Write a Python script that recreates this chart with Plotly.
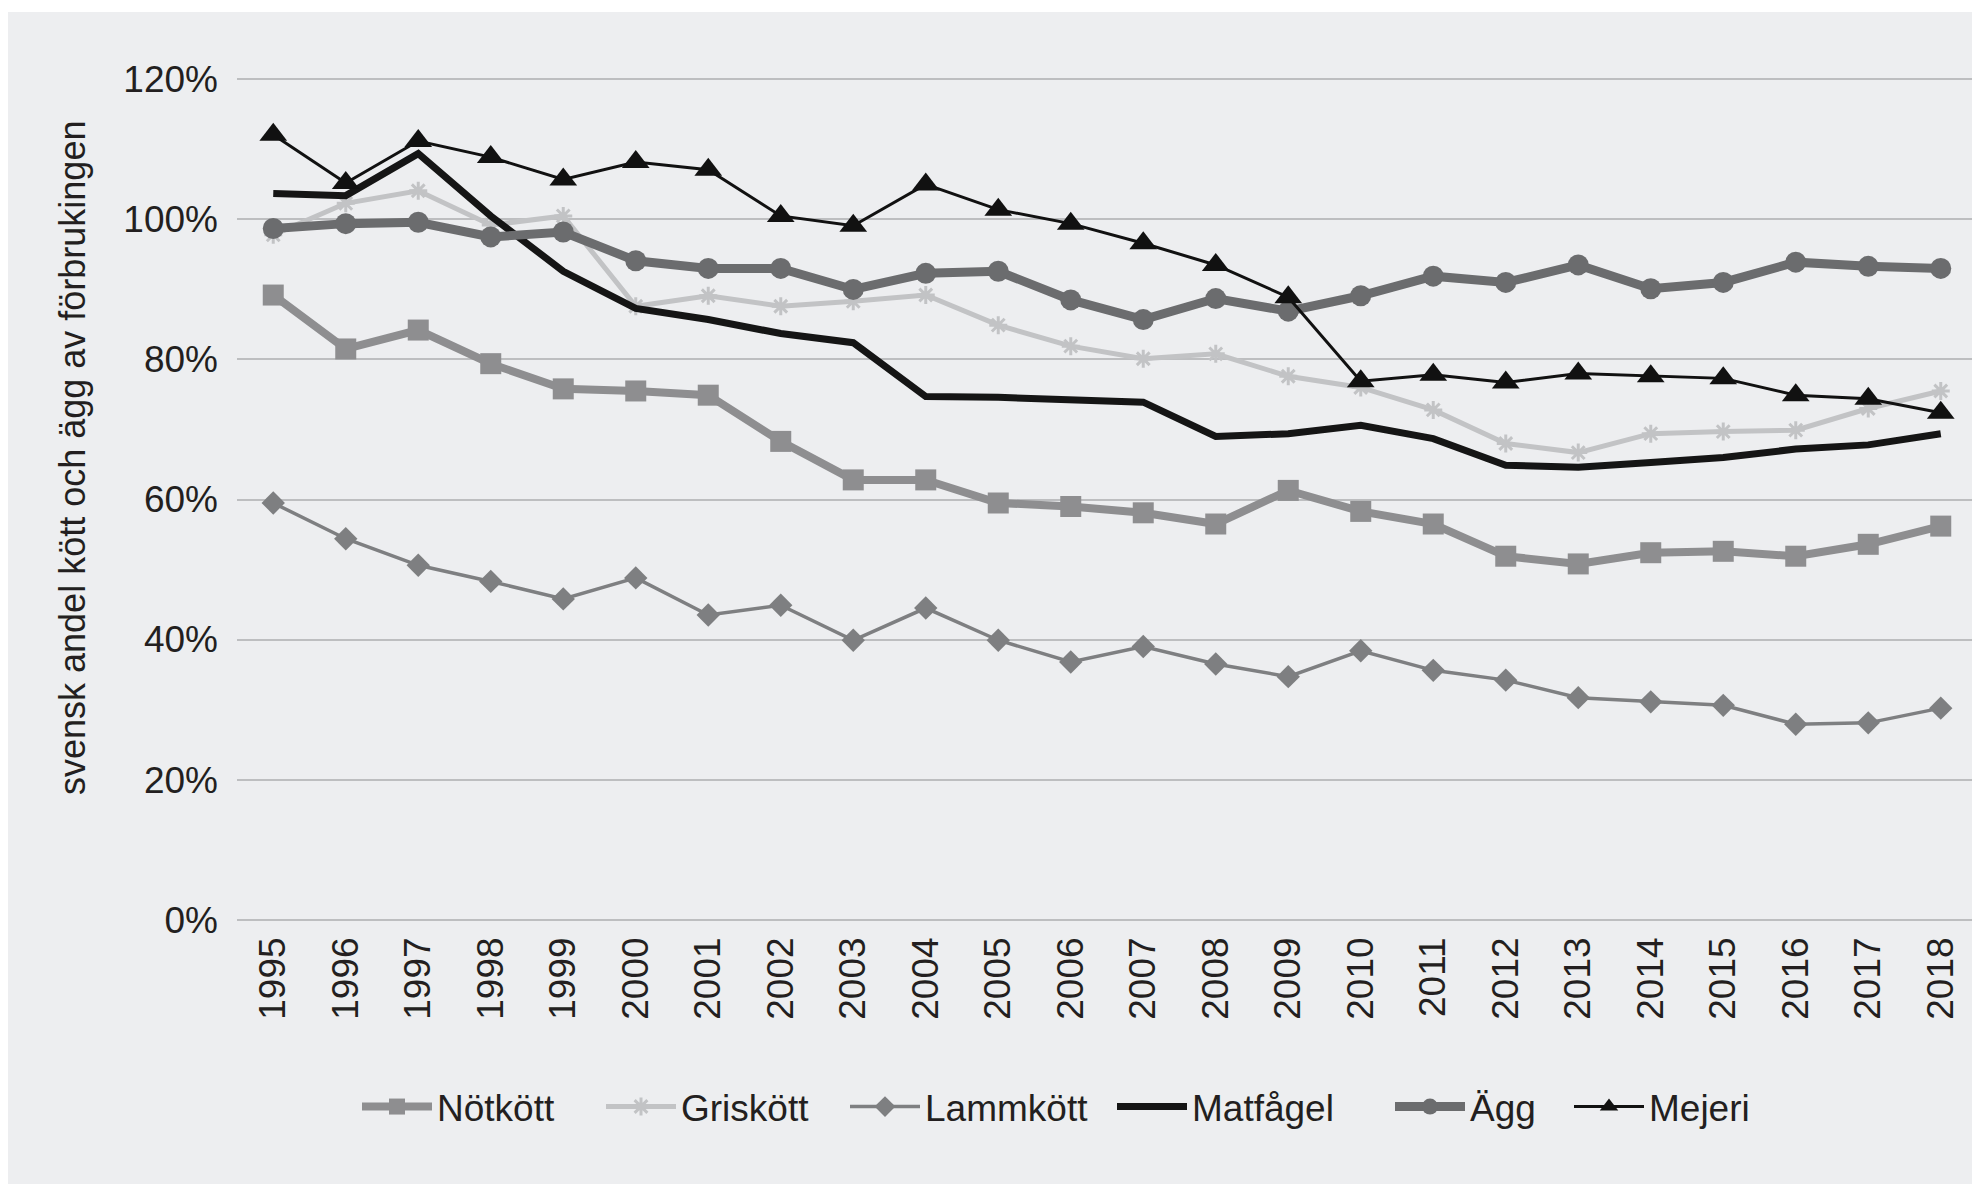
import plotly.graph_objects as go

years = list(range(1995, 2019))

notkott = [89.2, 81.5, 84.2, 79.4, 75.8, 75.5, 74.9, 68.3, 62.8, 62.8, 59.5, 59.0,
           58.1, 56.5, 61.3, 58.3, 56.5, 51.9, 50.8, 52.4, 52.6, 51.9, 53.6, 56.2]
griskott = [97.8, 102.3, 104.1, 99.2, 100.5, 87.6, 89.1, 87.6, 88.3, 89.2, 84.9, 81.9,
            80.1, 80.8, 77.6, 76.0, 72.8, 68.0, 66.7, 69.4, 69.7, 69.9, 73.0, 75.5]
lammkott = [59.5, 54.4, 50.6, 48.3, 45.8, 48.8, 43.5, 44.9, 39.9, 44.5, 39.9, 36.8,
            39.0, 36.5, 34.7, 38.4, 35.6, 34.2, 31.7, 31.1, 30.6, 27.9, 28.1, 30.2]
matfagel = [103.7, 103.4, 109.4, 100.5, 92.6, 87.3, 85.7, 83.7, 82.4, 74.7, 74.6, 74.2,
            73.9, 69.0, 69.4, 70.6, 68.7, 64.9, 64.6, 65.3, 66.0, 67.2, 67.8, 69.4]
agg = [98.7, 99.4, 99.6, 97.5, 98.2, 94.1, 93.0, 93.0, 90.0, 92.3, 92.6, 88.5,
       85.7, 88.7, 86.9, 89.1, 91.9, 91.0, 93.5, 90.1, 91.0, 93.9, 93.3, 93.0]
mejeri = [112.1, 105.2, 111.2, 108.9, 105.7, 108.2, 107.1, 100.5, 99.1, 105.0, 101.4, 99.4,
          96.6, 93.5, 88.9, 76.9, 77.8, 76.7, 78.0, 77.6, 77.3, 74.9, 74.4, 72.4]

y_ticks = [0, 20, 40, 60, 80, 100, 120]
y_tick_labels = ["0%", "20%", "40%", "60%", "80%", "100%", "120%"]
y_title = "svensk andel kött och ägg av förbrukingen"

FONT = "Liberation Sans Narrow, Arial Narrow, Liberation Sans, Arial, sans-serif"
BG = "#EDEEF0"
TXT = "#231F20"

# page body adds an 8px offset; figure coordinates = target - 8
OFF = 8
W, H = 1980 - OFF, 1189 - OFF
L = 237 - OFF
T = 78 - OFF
R = W - (1977 - OFF)
B = H - (921 - OFF)
pw = W - L - R
ph = H - T - B

def px(xt):
    return ((xt - OFF) - L) / pw

def py(yt):
    return ((H - B) - (yt - OFF)) / ph

def frac(v):
    return [x / 100 for x in v]

fig = go.Figure()

fig.add_trace(go.Scatter(x=years, y=frac(notkott), name="Nötkött", mode="lines+markers",
                         legend="legend",
                         line=dict(color="#8E8E90", width=8),
                         marker=dict(symbol="square", size=21, color="#8E8E90")))
fig.add_trace(go.Scatter(x=years, y=frac(griskott), name="Griskött", mode="lines+markers",
                         legend="legend2",
                         line=dict(color="#C2C3C5", width=5),
                         marker=dict(symbol="asterisk-open", size=15,
                                     color="#C2C3C5", line=dict(color="#C2C3C5", width=3))))
fig.add_trace(go.Scatter(x=years, y=frac(lammkott), name="Lammkött", mode="lines+markers",
                         legend="legend3",
                         line=dict(color="#7E7F81", width=3.5),
                         marker=dict(symbol="diamond", size=18, color="#7E7F81")))
fig.add_trace(go.Scatter(x=years, y=frac(matfagel), name="Matfågel", mode="lines",
                         legend="legend4",
                         line=dict(color="#151515", width=7)))
fig.add_trace(go.Scatter(x=years, y=frac(agg), name="Ägg", mode="lines+markers",
                         legend="legend5",
                         line=dict(color="#6B6C6E", width=9),
                         marker=dict(symbol="circle", size=21, color="#6B6C6E")))
fig.add_trace(go.Scatter(x=years, y=frac(mejeri), name="Mejeri", mode="lines+markers",
                         legend="legend6",
                         line=dict(color="#111111", width=3),
                         marker=dict(symbol="triangle-up", size=24, color="#111111")))

legend_starts = [366, 610, 854, 1121, 1399, 1578]

def leg(xs):
    return dict(orientation="h", x=px(xs - 9), xanchor="left", y=py(1107), yanchor="middle",
                bgcolor="rgba(0,0,0,0)", font=dict(family=FONT, size=37, color=TXT),
                itemwidth=70, tracegroupgap=0)

legends = {}
for i, xs in enumerate(legend_starts):
    key = "legend" if i == 0 else f"legend{i + 1}"
    legends[key] = leg(xs)

fig.update_layout(
    width=W, height=H,
    margin=dict(l=L, r=R, t=T, b=B),
    paper_bgcolor="white",
    plot_bgcolor=BG,
    font=dict(family=FONT, size=37, color=TXT),
    showlegend=True,
    shapes=[dict(type="rect", xref="paper", yref="paper",
                 x0=px(7), x1=px(1990),
                 y0=py(1184), y1=py(12),
                 fillcolor=BG, line=dict(width=0), layer="below")],
    annotations=[dict(text=y_title, xref="paper", yref="paper",
                      x=px(72), y=py(458), textangle=-90,
                      xanchor="center", yanchor="middle", showarrow=False,
                      font=dict(family=FONT, size=36, color=TXT))],
    **legends,
)

fig.update_xaxes(
    range=[1994.5, 2018.5], tickmode="array", tickvals=years,
    ticktext=[str(y) for y in years], tickangle=-90,
    showgrid=False, zeroline=False, showline=False,
    ticks="", ticklabelstandoff=8,
    tickfont=dict(family=FONT, size=37, color=TXT),
)
fig.update_yaxes(
    range=[-0.002, 1.202], tickmode="array", tickvals=[v / 100 for v in y_ticks],
    ticktext=y_tick_labels, showgrid=True, gridcolor="#BDBEC0", gridwidth=2,
    zeroline=False, showline=False, ticks="", ticklabelstandoff=18,
    tickfont=dict(family=FONT, size=37, color=TXT),
)

fig.write_html("out.html")
